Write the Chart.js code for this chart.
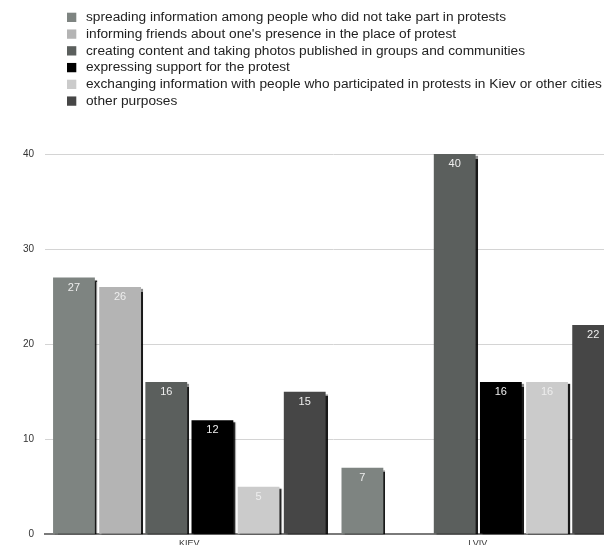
<!DOCTYPE html>
<html>
<head>
<meta charset="utf-8">
<script src="https://cdn.jsdelivr.net/npm/chart.js@4/dist/chart.umd.min.js"></script>
<style>
  html, body { margin: 0; padding: 0; background: #fff; overflow: hidden; }
  #wrap { width: 640px; height: 560px; }
</style>
</head>
<body>
<div id="wrap"><canvas id="c" width="640" height="560"></canvas></div>
<script>
const categories = ["KIEV", "LVIV"];
const seriesLabels = [
  "spreading information among people who did not take part in protests",
  "informing friends about one's presence in the place of protest",
  "creating content and taking photos published in groups and communities",
  "expressing support for the protest",
  "exchanging information with people who participated in protests in Kiev or other cities",
  "other purposes"
];
const spreading = [27, 7];
const informing = [26, null];
const creating = [16, 40];
const expressing = [12, 16];
const exchanging = [5, 16];
const other = [15, 22];
const seriesValues = [spreading, informing, creating, expressing, exchanging, other];
const seriesColors = ["#7e8481", "#b4b4b4", "#5b5f5d", "#000000", "#cbcbcb", "#464646"];
const yTicks = [0, 10, 20, 30, 40];

const shadowPlugin = {
  id: 'barShadow',
  beforeDatasetDraw(chart) {
    const ctx = chart.ctx;
    ctx.save();
    ctx.shadowColor = 'rgba(0,0,0,0.9)';
    ctx.shadowOffsetX = 2;
    ctx.shadowOffsetY = 2;
    ctx.shadowBlur = 1;
  },
  afterDatasetDraw(chart) {
    chart.ctx.restore();
  }
};

const valueLabelPlugin = {
  id: 'valueLabels',
  afterDatasetsDraw(chart) {
    const ctx = chart.ctx;
    ctx.save();
    ctx.font = '11px "Liberation Sans", Arial, sans-serif';
    ctx.fillStyle = '#eeeeee';
    ctx.textAlign = 'center';
    ctx.textBaseline = 'middle';
    chart.data.datasets.forEach((ds, i) => {
      const meta = chart.getDatasetMeta(i);
      meta.data.forEach((bar, j) => {
        const v = ds.data[j];
        if (v === null || v === undefined) return;
        ctx.fillText(String(v), bar.x, bar.y + 10);
      });
    });
    ctx.restore();
  }
};

const legendPlugin = {
  id: 'stackLegend',
  afterDraw(chart) {
    const ctx = chart.ctx;
    ctx.save();
    ctx.font = '13.7px "Liberation Sans", Arial, sans-serif';
    ctx.textBaseline = 'middle';
    ctx.textAlign = 'left';
    chart.data.datasets.forEach((ds, i) => {
      const cy = 17.3 + i * 16.75;
      ctx.fillStyle = ds.backgroundColor;
      ctx.fillRect(67, cy - 4.6, 9.3, 9.3);
      ctx.fillStyle = '#222222';
      ctx.fillText(ds.label, 86, cy);
    });
    ctx.restore();
  }
};

new Chart(document.getElementById('c'), {
  type: 'bar',
  data: {
    labels: categories,
    datasets: seriesLabels.map((lab, i) => ({
      label: lab,
      data: seriesValues[i],
      backgroundColor: seriesColors[i],
      borderWidth: 0,
      categoryPercentage: 0.96,
      barPercentage: 0.906
    }))
  },
  options: {
    responsive: false,
    animation: false,
    layout: { padding: { top: 154, left: 12, right: 18, bottom: 7 } },
    plugins: { legend: { display: false }, tooltip: { enabled: false } },
    scales: {
      x: {
        grid: { display: false, drawTicks: false },
        border: { display: true, color: '#7a7a7a', width: 2 },
        ticks: { color: '#333', font: { size: 9, family: '"Liberation Sans", Arial, sans-serif' }, padding: 4 }
      },
      y: {
        min: 0, max: 40,
        afterBuildTicks: s => { s.ticks = yTicks.map(v => ({ value: v })); },
        border: { display: false },
        grid: { color: '#d4d4d4', lineWidth: 1, drawTicks: false },
        ticks: { color: '#333', font: { size: 10, family: '"Liberation Sans", Arial, sans-serif' }, padding: 11 }
      }
    }
  },
  plugins: [shadowPlugin, valueLabelPlugin, legendPlugin]
});
</script>
</body>
</html>
